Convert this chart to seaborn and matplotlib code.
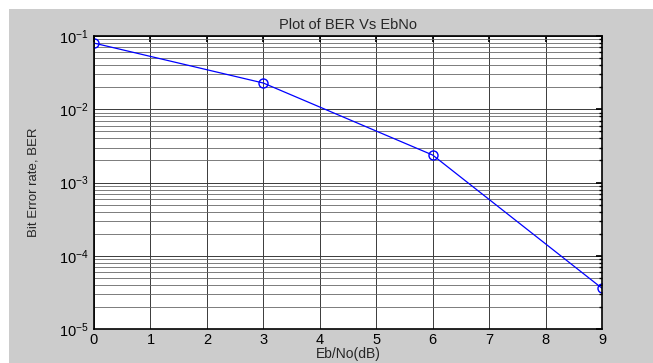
import matplotlib
matplotlib.use("Agg")
import matplotlib.pyplot as plt
import seaborn as sns
import pandas as pd
from matplotlib.patches import Rectangle
from matplotlib.ticker import LogLocator, LogFormatterSciNotation, FixedLocator

ebno_db = [0, 3, 6, 9]
ber = [0.080, 0.0228, 0.00237, 3.6e-5]
x_ticks = [0, 1, 2, 3, 4, 5, 6, 7, 8, 9]

sns.set_theme(style="white")
plt.rcParams['font.family'] = ['Liberation Sans', 'DejaVu Sans']
plt.rcParams['mathtext.default'] = 'regular'

fig = plt.figure(figsize=(6.53, 3.63), dpi=100)
fig.patch.set_facecolor('#cccccc')
fig.patches.append(Rectangle((0, 1 - 9/363), 1, 9/363, transform=fig.transFigure,
                             facecolor='white', edgecolor='none', zorder=-1))
fig.patches.append(Rectangle((0, 0), 9/653, 1, transform=fig.transFigure,
                             facecolor='white', edgecolor='none', zorder=-1))

ax = fig.add_axes([94/653, 34/363, 508/653, 293/363])
ax.set_facecolor('white')
df = pd.DataFrame({'EbNo': ebno_db, 'BER': ber})
sns.lineplot(data=df, x='EbNo', y='BER', ax=ax, color='blue', lw=0.9,
             marker='o', markersize=6.5, markerfacecolor='none',
             markeredgecolor='blue', markeredgewidth=1.0)
ax.set_yscale('log')
ax.set_xlim(0, 9)
ax.set_ylim(1e-5, 1e-1)
ax.xaxis.set_major_locator(FixedLocator(x_ticks))
ax.yaxis.set_major_locator(LogLocator(base=10, numticks=10))
ax.yaxis.set_minor_locator(LogLocator(base=10, subs=range(2, 10), numticks=20))
ax.yaxis.set_major_formatter(LogFormatterSciNotation())

ax.grid(True, which='major', color='#3a3a3a', lw=0.7)
ax.grid(True, which='minor', axis='y', color='#666666', lw=0.6)
ax.set_axisbelow(True)

for s in ax.spines.values():
    s.set_color('black')
    s.set_linewidth(1.2)

ax.tick_params(which='both', direction='in', top=True, right=True, colors='black',
               labelsize=10.5)
ax.tick_params(axis='x', pad=3)
ax.tick_params(axis='y', pad=4)
ax.tick_params(which='major', length=4)
ax.tick_params(which='minor', length=2)

ax.set_title('Plot of BER Vs EbNo', fontsize=10.5, pad=5)
ax.set_xlabel('Eb/No(dB)', fontsize=10, labelpad=0)
ax.set_ylabel('Bit Error rate, BER', fontsize=9.5, labelpad=14)

fig.savefig('out.png', dpi=100, facecolor=fig.get_facecolor())
